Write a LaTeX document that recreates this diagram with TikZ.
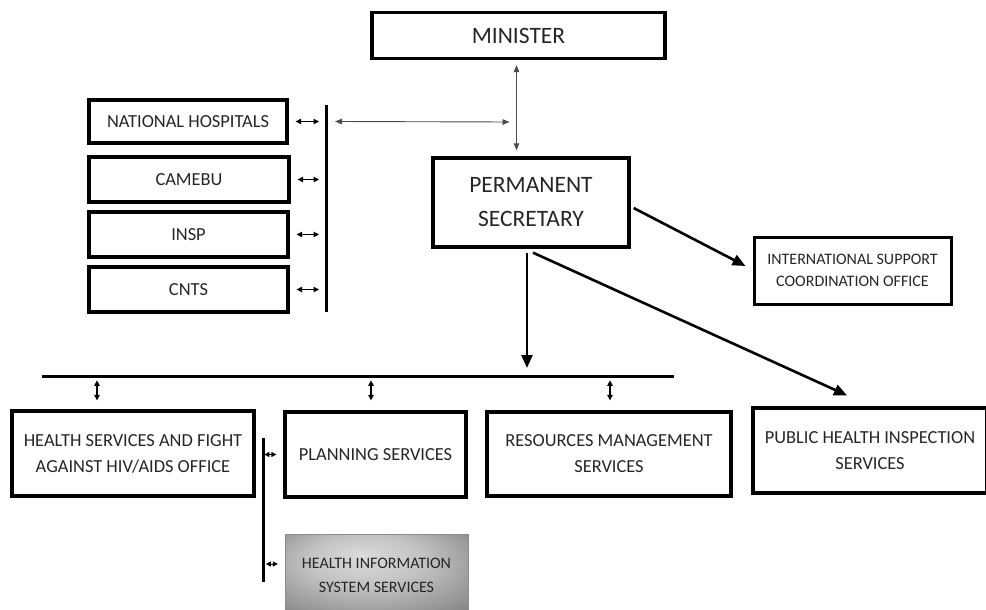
\documentclass[tikz,border=0pt]{standalone}
\usepackage{fontspec}
\setmainfont{Carlito}
\usetikzlibrary{arrows.meta,calc}

% soft grey glow used for the information-system box
\pgfdeclareradialshading{hisglow}{\pgfpoint{-4bp}{12bp}}{%
  color(0bp)=(black!14); color(16bp)=(black!24); color(32bp)=(black!42);
  color(46bp)=(black!58); color(60bp)=(black!64)}

\begin{document}
\begin{tikzpicture}[x=1pt,y=-1pt,
  box/.style={draw=black, line width=3.3pt, align=center, text=black!85,
    inner sep=0pt, font=\fontsize{18.4}{26}\selectfont},
  bigbox/.style={box, font=\fontsize{23.5}{34}\selectfont},
  smallbox/.style={box, line width=3pt, font=\fontsize{16}{22}\selectfont},
  thinlink/.style={draw=black!70, line width=0.9pt,
    {Triangle[length=7pt,width=5.5pt]}-{Triangle[length=7pt,width=5.5pt]}},
  tinylink/.style={draw=black, line width=1.1pt,
    {Triangle[length=5.5pt,width=5.5pt]}-{Triangle[length=5.5pt,width=5.5pt]}},
  stublink/.style={draw=black, line width=1pt,
    {Triangle[length=5pt,width=5pt]}-{Triangle[length=5pt,width=5pt]}},
  heavylink/.style={draw=black, line width=2.6pt,
    -{Triangle[length=13pt,width=11pt]}},
  bar/.style={draw=black, line width=3pt}]

\useasboundingbox (0,0) rectangle (986,610);

% top of the hierarchy
\node[bigbox, minimum width=293pt, minimum height=46pt] (min) at (518.5,35.5) {MINISTER};
\node[bigbox, minimum width=196pt, minimum height=89pt] (ps) at (531,202.5)
  {PERMANENT\\SECRETARY};

% attached institutions
\node[box, minimum width=198pt, minimum height=43pt] (nh) at (188,121.5) {NATIONAL HOSPITALS};
\node[box, minimum width=200pt, minimum height=45pt] (cam) at (189,179.5) {CAMEBU};
\node[box, minimum width=199pt, minimum height=45pt] (insp) at (188.5,234.5) {INSP};
\node[box, minimum width=199pt, minimum height=45pt] (cnts) at (188.5,289.5) {CNTS};

\node[smallbox, minimum width=197pt, minimum height=67pt] (isco) at (852.5,270.5)
  {INTERNATIONAL SUPPORT\\COORDINATION OFFICE};

% directorates
\node[box, minimum width=242pt, minimum height=85pt] (hs) at (133,453.5)
  {HEALTH SERVICES AND FIGHT\\AGAINST HIV/AIDS OFFICE};
\node[box, minimum width=181pt, minimum height=85pt] (pl) at (375.5,454.5) {PLANNING SERVICES};
\node[box, minimum width=244pt, minimum height=84pt] (rm) at (609,454)
  {RESOURCES MANAGEMENT\\SERVICES};
\node[box, minimum width=234pt, minimum height=85pt] (ph) at (870,450.5)
  {PUBLIC HEALTH INSPECTION\\SERVICES};

\shade[shading=hisglow, draw=black!45, line width=0.8pt]
  (285,534) rectangle (468,616);
\node[align=center, inner sep=0pt, text=black!85, font=\fontsize{16}{24}\selectfont,
  minimum width=183pt, minimum height=60pt] (his) at (376.5,575)
  {HEALTH INFORMATION\\SYSTEM SERVICES};

% bars
\coordinate (lbT) at (326,105);
\coordinate (lbB) at (326,312);
\coordinate (hbL) at (42,376);
\coordinate (hbR) at (674,376);
\coordinate (vbT) at (263,438);
\coordinate (vbB) at (263,582);
\coordinate (mline) at (516.5,122);
\draw[bar] (lbT) -- (lbB);
\draw[bar] (hbL) -- (hbR);
\draw[bar] (vbT) -- (vbB);

% minister <-> permanent secretary, and the institutions link
\draw[thinlink] ($(min.south)+(-2,5)$) -- ($(ps.north)+(-14.5,-6)$);
\draw[thinlink] ($(nh.east -| lbT)+(9,0)$) -- ($(mline)+(-7,0)$);

% institutions <-> bar
\foreach \n in {nh,cam,insp,cnts}
  \draw[tinylink] ($(\n.east)+(7,0)$) -- ($(\n.east -| lbT)+(-7,0)$);

% permanent secretary links
\draw[heavylink] ($(ps.south)+(-4,4)$) -- ($(ps.south |- hbL)+(-4,-8)$);
\draw[heavylink] ($(ps.east)+(3,5.5)$) -- ($(isco.west)+(-7,-4.5)$);
\draw[heavylink] ($(ps.south)+(2,4)$) -- ($(ph.north)+(-23,-11)$);

% bar <-> directorates
\draw[tinylink] ($(hs.north)+(-36,-29)$) -- ($(hs.north)+(-36,-9)$);
\draw[tinylink] ($(pl.north)+(-4.5,-30)$) -- ($(pl.north)+(-4.5,-10)$);
\draw[tinylink] ($(rm.north)+(1,-30)$) -- ($(rm.north)+(1,-10)$);

% planning side bar
\draw[stublink] ($(pl.west)+(-19,0)$) -- ($(pl.west)+(-7,0)$);
\draw[stublink] ($(his.west)+(-19,-11)$) -- ($(his.west)+(-7,-11)$);

\end{tikzpicture}
\end{document}
